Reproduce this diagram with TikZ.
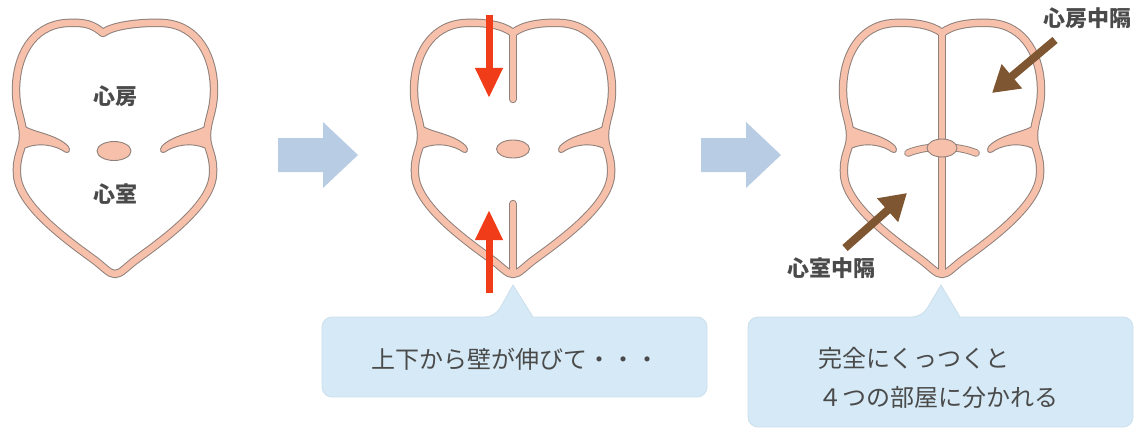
\documentclass[tikz,border=0pt]{standalone}
\usepackage{fontspec}
\newfontfamily\jp{Noto Sans CJK JP}
\usetikzlibrary{arrows.meta}

\definecolor{wallpink}{HTML}{F7C0AB}
\definecolor{wallline}{HTML}{8E807A}
\definecolor{flowblue}{HTML}{B8CCE4}
\definecolor{calloutfill}{HTML}{D5EAF6}
\definecolor{calloutline}{HTML}{CBDFEC}
\definecolor{pushred}{HTML}{F03C18}
\definecolor{septbrown}{HTML}{7E5632}
\definecolor{textgray}{HTML}{4A4A4A}

% centre line of the heart wall; #1 = x of the notch between the two lobes
\newcommand\heartpath[1]{%
  (#1,33) .. controls (#1+10,25) and (28,22) .. (48,23)
  .. controls (84,25) and (99,58) .. (99,90)
  .. controls (99,112) and (92,120) .. (92,136)
  .. controls (92,150) and (99,154) .. (98,174)
  .. controls (97,205) and (48,240) .. (22,259)
  .. controls (11,267) and (6,274) .. (0,274)
  .. controls (-6,274) and (-11,267) .. (-22,259)
  .. controls (-48,240) and (-97,205) .. (-98,174)
  .. controls (-99,154) and (-92,150) .. (-92,136)
  .. controls (-92,120) and (-99,112) .. (-99,90)
  .. controls (-99,58) and (-84,25) .. (-48,23)
  .. controls (-28,22) and (#1-10,25) .. (#1,33) -- cycle}

% the two endocardial cushion folds growing in from the waist
\newcommand\flappair{%
  \foreach \s in {1,-1}{
    \begin{scope}[xscale=\s]
      \filldraw[flapshape] (-93,124) .. controls (-86,132) and (-60,133) .. (-47,146)
        .. controls (-44,150) and (-46,154) .. (-50,152)
        .. controls (-58,146) and (-76,141) .. (-92,149) -- cycle;
    \end{scope}
  }}

\tikzset{
  walledge/.style={draw=wallline, line width=8.4, line cap=round, line join=round},
  wallcore/.style={draw=wallpink, line width=6.4, line cap=round, line join=round},
  flapshape/.style={fill=wallpink, draw=wallline, line width=0.9},
  cushion/.style={fill=wallpink, draw=wallline, line width=0.9},
  parttext/.style={font=\jp\bfseries\fontsize{22}{26}\selectfont, text=textgray, inner sep=0},
  note/.style={font=\jp\fontsize{24}{30}\selectfont, text=textgray, inner sep=0},
  flowarrow/.style={fill=flowblue},
  callout/.style={fill=calloutfill, draw=calloutline, line width=0.8},
  growarrow/.style={draw=pushred, line width=7, -{Triangle[length=30pt,width=26pt]}},
  pointer/.style={draw=septbrown, line width=8, -{Triangle[length=26pt,width=30pt]}}
}

\begin{document}
\begin{tikzpicture}[x=1pt,y=-1pt]
\useasboundingbox (0,0) rectangle (1142,433);

% ---------- stage 1: open heart ----------
\begin{scope}[shift={(115,0)}]
  \draw[walledge] \heartpath{-12};
  \flappair
  \draw[wallcore] \heartpath{-12};
  \filldraw[cushion] (-1,151) ellipse [x radius=17, y radius=9.5];
\end{scope}
\node[parttext] (atria) at (115,96) {心房};
\node[parttext] (ventricles) at (115,194) {心室};

% ---------- flow arrow 1 ----------
\fill[flowarrow] (278,138) -- (323,138) -- (323,122) -- (358,155) -- (323,188) -- (323,172) -- (278,172) -- cycle;

% ---------- stage 2: septa growing ----------
\begin{scope}[shift={(513,0)}]
  \draw[walledge] \heartpath{0};
  \draw[walledge] (0,33) -- (0,99);
  \draw[walledge] (0,204) -- (0,272);
  \flappair
  \draw[wallcore] \heartpath{0};
  \draw[wallcore] (0,33) -- (0,99);
  \draw[wallcore] (0,204) -- (0,272);
  \filldraw[cushion] (0,149) ellipse [x radius=16.5, y radius=9];
\end{scope}
\coordinate (downtail) at (489,15);
\coordinate (downtip) at (489,98);
\coordinate (uptail) at (489,293);
\coordinate (uptip) at (489,210);
\draw[growarrow] (downtail) -- (downtip);
\draw[growarrow] (uptail) -- (uptip);

% ---------- flow arrow 2 ----------
\fill[flowarrow] (701,138) -- (746,138) -- (746,122) -- (781,155) -- (746,188) -- (746,172) -- (701,172) -- cycle;

% ---------- stage 3: four chambers ----------
\begin{scope}[shift={(942,0)}]
  \draw[walledge] \heartpath{0};
  \draw[walledge] (0,33) -- (0,272);
  \flappair
  \draw[wallcore] \heartpath{0};
  \draw[wallcore] (0,33) -- (0,272);
  \draw[wallline, line width=7.6, line cap=round] (-34,153) .. controls (-15,145) and (15,145) .. (34,153);
  \draw[wallpink, line width=5.8, line cap=round] (-34,153) .. controls (-15,145) and (15,145) .. (34,153);
  \filldraw[cushion] (0,148) ellipse [x radius=15, y radius=9];
\end{scope}
\node[parttext] (atrialsep) at (1087,18) {心房中隔};
\node[parttext] (ventsep) at (831,268) {心室中隔};
\coordinate (atail) at (1055,40);
\coordinate (atip) at (992,93);
\coordinate (vtail) at (845,248);
\coordinate (vtip) at (907,193);
\draw[pointer] (atail) -- (atip);
\draw[pointer] (vtail) -- (vtip);

% ---------- callouts ----------
\path[callout] (322,360) [rounded corners=10] |- (495,317) [sharp corners] -- (513,285) -- (533,317)
  [rounded corners=10] -| (707,397) -| (322,360) [sharp corners] -- cycle;
\node[note, anchor=west] (msgA) at (371,359) {上下から壁が伸びて・・・};

\path[callout] (748,370) [rounded corners=10] |- (922,317) [sharp corners] -- (941,285) -- (960,317)
  [rounded corners=10] -| (1133,427) -| (748,370) [sharp corners] -- cycle;
\node[note, anchor=west] (msgB) at (818,358) {完全にくっつくと};
\node[note, anchor=west] (msgC) at (818,397) {４つの部屋に分かれる};
\end{tikzpicture}
\end{document}
